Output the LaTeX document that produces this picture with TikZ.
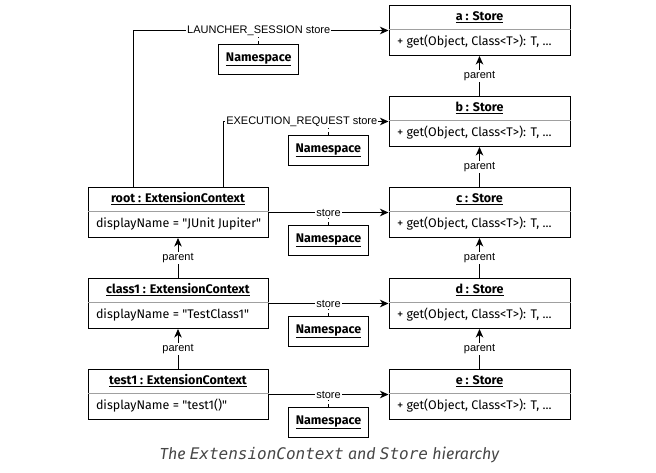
\documentclass[tikz,border=0pt]{standalone}
\usepackage{fontspec}
\setmainfont{Fira Sans}
\newfontfamily\lblfont{Liberation Sans}
\newfontfamily\codefont{DejaVu Sans Mono}
\usetikzlibrary{positioning,arrows.meta}
\definecolor{capgray}{RGB}{70,70,70}
\definecolor{splitgray}{RGB}{160,160,160}

\begin{document}
\begin{tikzpicture}[x=1pt, y=-1pt, line width=1pt, font=\fontsize{12.5}{15}\selectfont,
  objbox/.style={draw, minimum width=181pt, minimum height=50pt, inner sep=0pt},
  hdr/.style={inner sep=0pt, anchor=center},
  bodytxt/.style={inner sep=0pt, anchor=west},
  divline/.style={draw=splitgray, line width=0.8pt},
  nsbox/.style={draw, minimum width=80pt, minimum height=30pt, inner sep=0pt},
  lbl/.style={fill=white, inner sep=1pt, font=\lblfont\fontsize{11}{13}\selectfont},
  arr/.style={-{Stealth[length=8.5pt, width=7.5pt, inset=2.5pt]}}]
  \useasboundingbox (0,0) rectangle (656,473);

  % stores
  \node[objbox] (a) at (479.5,30.5) {};
  \node[objbox, below=40pt of a] (b) {};
  \node[objbox, below=40pt of b] (c) {};
  \node[objbox, below=40pt of c] (d) {};
  \node[objbox, below=40pt of d] (e) {};
  \foreach \n in {a,b,c,d,e} {
    \node[hdr] (\n-h) at ([yshift=-12pt]\n.north) {\underline{\textbf{\n\ : Store}}};
    \node[bodytxt] (\n-b) at ([xshift=8pt, yshift=-37pt]\n.north west) {+ get(Object, Class<T>): T, ...};
    \draw[divline] ([yshift=-24pt]\n.north west) -- ([yshift=-24pt]\n.north east);
  }

  % extension contexts
  \node[objbox, minimum width=180pt, left=120pt of c] (root) {};
  \node[objbox, minimum width=180pt, left=120pt of d] (class1) {};
  \node[objbox, minimum width=180pt, left=120pt of e] (test1) {};
  \foreach \n/\v in {root/JUnit Jupiter, class1/TestClass1, test1/test1()} {
    \node[hdr] (\n-h) at ([yshift=-12pt]\n.north) {\underline{\textbf{\n\ : ExtensionContext}}};
    \node[bodytxt] (\n-b) at ([xshift=8pt, yshift=-37pt]\n.north west) {displayName = \textquotedbl\v\textquotedbl};
    \draw[divline] ([yshift=-24pt]\n.north west) -- ([yshift=-24pt]\n.north east);
  }

  % parent links
  \draw[arr] (b) -- node[lbl] (pb) {parent} (a);
  \draw[arr] (c) -- node[lbl] (pc) {parent} (b);
  \draw[arr] (d) -- node[lbl] (pd) {parent} (c);
  \draw[arr] (e) -- node[lbl] (pe) {parent} (d);
  \draw[arr] (class1) -- node[lbl] (pclass1) {parent} (root);
  \draw[arr] (test1) -- node[lbl] (ptest1) {parent} (class1);

  % stores of the contexts
  \draw[arr] ([xshift=-45pt]root.north) |- node[lbl, pos=0.746] (ls) {LAUNCHER\_SESSION store} (a.west);
  \draw[arr] ([xshift=45pt]root.north) |- node[lbl, pos=0.738] (er) {EXECUTION\_REQUEST store} (b.west);
  \draw[arr] (root) -- node[lbl] (sroot) {store} (c);
  \draw[arr] (class1) -- node[lbl] (sclass1) {store} (d);
  \draw[arr] (test1) -- node[lbl] (stest1) {store} (e);

  % namespaces
  \node[nsbox, below=7pt of ls] (ns1) {\underline{\textbf{Namespace}}};
  \node[nsbox, below=7pt of er, xshift=26.5pt] (ns2) {\underline{\textbf{Namespace}}};
  \node[nsbox, below=7pt of sroot] (ns3) {\underline{\textbf{Namespace}}};
  \node[nsbox, below=7pt of sclass1] (ns4) {\underline{\textbf{Namespace}}};
  \node[nsbox, below=7pt of stest1] (ns5) {\underline{\textbf{Namespace}}};
  \draw[dashed, line width=0.8pt] (ns1) -- (ls);
  \draw[dashed, line width=0.8pt] (ns2.north) -- (ns2.north |- er.south);
  \draw[dashed, line width=0.8pt] (ns3) -- (sroot);
  \draw[dashed, line width=0.8pt] (ns4) -- (sclass1);
  \draw[dashed, line width=0.8pt] (ns5) -- (stest1);

  \node[text=capgray, font=\fontsize{16}{19}\selectfont\itshape] (cap) at (329.5,455)
    {The {\codefont\itshape ExtensionContext} and {\codefont\itshape Store} hierarchy};
\end{tikzpicture}
\end{document}
